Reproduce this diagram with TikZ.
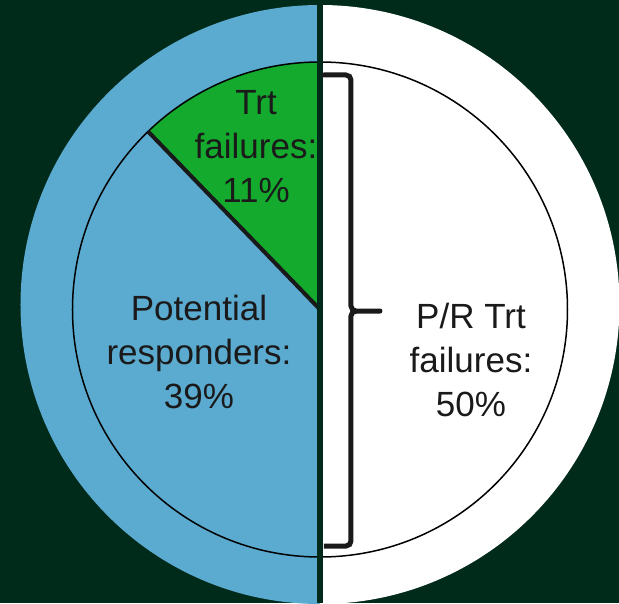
\documentclass[tikz,border=0pt]{standalone}
\usepackage{fontspec}
\setmainfont{Liberation Sans}
\usepackage{tikz}
\usetikzlibrary{positioning}

\definecolor{bgdark}{RGB}{0,42,26}
\definecolor{pieblue}{RGB}{91,170,207}
\definecolor{piegreen}{RGB}{20,170,45}
\definecolor{txtdark}{RGB}{26,26,26}

\tikzset{
  pielabel/.style={align=center, inner sep=0pt, anchor=north, text=txtdark,
    font={\fontsize{35}{44}\selectfont}},
}

\begin{document}
\begin{tikzpicture}[x=1pt,y=1pt]
                    % Background
                    \fill[bgdark] (-320,-293.5) rectangle (299,309.5);
                    \useasboundingbox (-320,-293.5) rectangle (299,309.5);
                    \coordinate (ctr) at (0,0);
                    \coordinate (octr) at (0,5);

                    % Outer ring: left half blue, right half white
                    \fill[pieblue] (octr) ++(0,299.5) arc (90:270:299.5) -- cycle;
                    \fill[white] (octr) ++(0,-299.5) arc (-90:90:299.5) -- cycle;

                    % Inner pie
                    \fill[pieblue] (ctr) -- ++(90:247.5) arc (90:270:247.5) -- cycle;
                    \fill[white] (ctr) -- ++(-90:247.5) arc (-90:90:247.5) -- cycle;
                    \fill[piegreen] (ctr) -- ++(90:247.5) arc (90:134:247.5) -- cycle;

                    % Labels
                    \node[pielabel] (trtfail) at (-64,219.5) {Trt\\failures:\\11\%};
                    \node[pielabel] (potresp) at (-121,15) {Potential\\responders:\\39\%};
                    \node[pielabel] (prfail) at (151,7) {P/R Trt\\failures:\\50\%};

                    % Inner circle outline and wedge edge
                    \draw[line width=1.5pt, black] (ctr) circle (247.5);
                    \coordinate (wedgeend) at (134:247.5);
                    \draw[line width=4pt, black!90] (ctr) -- (wedgeend);

                    % Dividing gap down the middle
                    \coordinate (gaptop) at (0,309.5);
                    \coordinate (gapbot) at (0,-293.5);
                    \draw[line width=6pt, bgdark] (gaptop) -- (gapbot);

                    % Brace over the right half
                    \coordinate (brtop) at (4,234.5);
                    \coordinate (brbot) at (4,-236.5);
                    \coordinate (brtip) at (60,-1.5);
                    \draw[line width=5pt, txtdark, rounded corners=5pt, line cap=round]
                      (brtop) -- (31,234.5) -- (31,-1.5) -- (brtip);
                    \draw[line width=5pt, txtdark, rounded corners=5pt]
                      (brbot) -- (31,-236.5) -- (31,-1.5) -- (36,-1.5);
                  \end{tikzpicture}
\end{document}
